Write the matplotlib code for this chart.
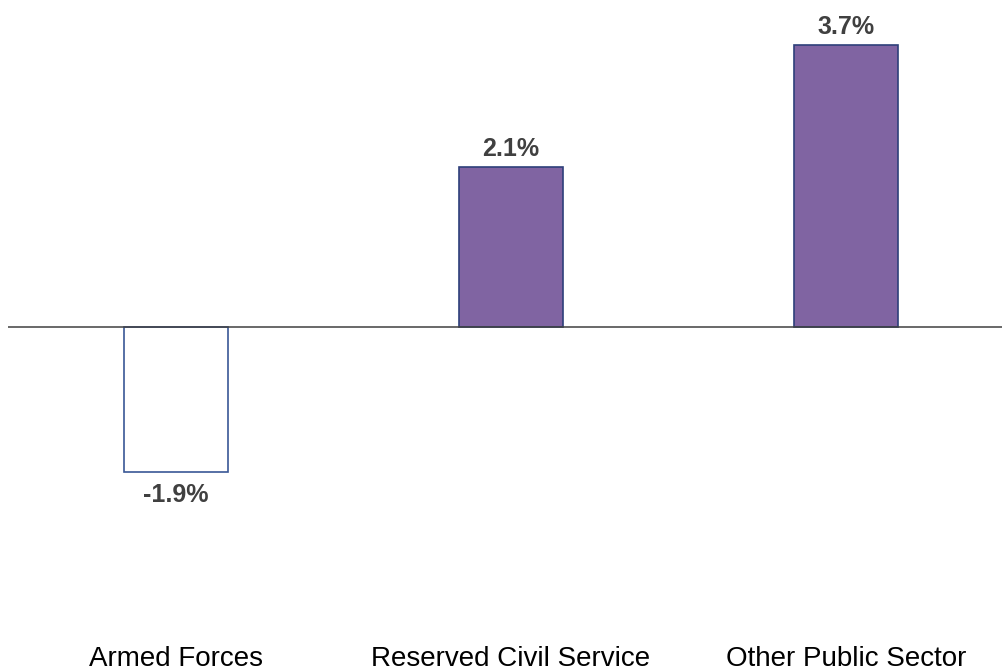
import matplotlib
matplotlib.use("Agg")
import matplotlib.pyplot as plt
import matplotlib.transforms as mtransforms

categories = ["Armed Forces", "Reserved Civil Service", "Other Public Sector"]
values = [-1.9, 2.1, 3.7]
value_labels = ["-1.9%", "2.1%", "3.7%"]

plt.rcParams['font.family'] = ['Liberation Sans', 'DejaVu Sans']

W, H = 1003, 670
fig = plt.figure(figsize=(W / 100, H / 100), dpi=100)
ax = fig.add_axes([8.5 / W, 0, 1005 / W, 1])

x = list(range(len(categories)))
fills = ["white" if v < 0 else "#8064A2" for v in values]
edges = ["#3A5896" if v < 0 else "#2E3F7A" for v in values]
ax.bar(x, values, width=0.313, color=fills, edgecolor=edges, linewidth=1.2, zorder=2)
ax.axhline(0, color="#404040", linewidth=1.1, zorder=3)

ax.set_xlim(-0.5, 2.5)
ax.set_ylim(-4.501, 4.291)
ax.axis("off")

for xi, v, lab in zip(x, values, value_labels):
    if v >= 0:
        ax.annotate(lab, (xi, v), xytext=(0, 6), textcoords="offset pixels",
                    ha="center", va="bottom", fontsize=18, fontweight="bold", color="#404040")
    else:
        ax.annotate(lab, (xi, v), xytext=(0, -11), textcoords="offset pixels",
                    ha="center", va="top", fontsize=18, fontweight="bold", color="#404040")

trans = mtransforms.blended_transform_factory(ax.transData, fig.transFigure)
for xi, c in zip(x, categories):
    ax.text(xi, 1 - 666 / H, c, transform=trans, ha="center", va="baseline",
            fontsize=20, color="black", clip_on=False)

fig.savefig("out.png", dpi=100)
